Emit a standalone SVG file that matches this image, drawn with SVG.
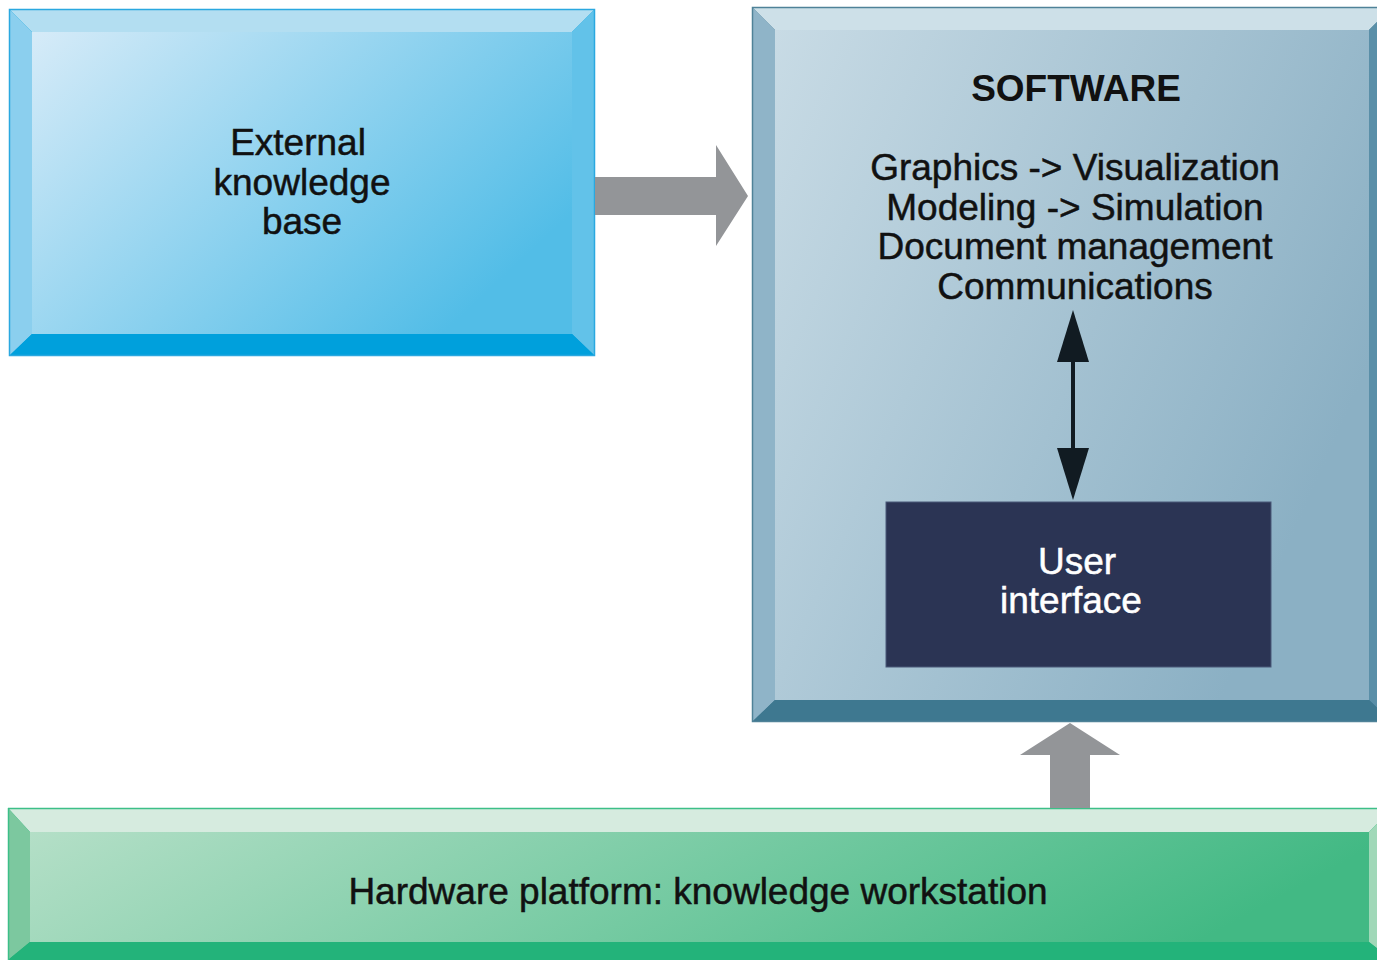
<svg xmlns="http://www.w3.org/2000/svg" width="1377" height="960" viewBox="0 0 1377 960">
<defs>
<linearGradient id="gBlue" x1="0" y1="0" x2="1" y2="0.6">
<stop offset="0" stop-color="#d6ebf8"/>
<stop offset="1" stop-color="#52bde7"/>
</linearGradient>
<linearGradient id="gSoft" x1="0" y1="0" x2="1" y2="0.5">
<stop offset="0" stop-color="#c8dbe5"/>
<stop offset="1" stop-color="#8bb0c4"/>
</linearGradient>
<linearGradient id="gGreen" x1="0" y1="0" x2="1" y2="0.15">
<stop offset="0" stop-color="#b4dfc7"/>
<stop offset="1" stop-color="#42b984"/>
</linearGradient>
</defs>
<style>
.t{font-family:"Liberation Sans",Arial,sans-serif;font-size:37px;fill:#111;stroke:#111;stroke-width:0.5px;text-anchor:middle}
.b{font-weight:bold;stroke-width:0}
.w{fill:#fff;stroke:#fff}
.arrow{fill:#939598}
</style>
<rect width="1377" height="960" fill="#fff"/>

<g id="external">
<rect x="9" y="9" width="586" height="347" fill="#00a0dc"/>
<polygon points="9,9 595,9 572,32 32,32" fill="#b3def1"/>
<polygon points="9,9 32,32 32,334 9,356" fill="#8bcfee"/>
<polygon points="595,9 595,356 572,334 572,32" fill="#62c2e9"/>
<polygon points="9,356 32,334 572,334 595,356" fill="#00a0dc"/>
<rect x="32" y="32" width="540" height="302" fill="url(#gBlue)"/>
<rect x="9.5" y="9.5" width="585" height="346" fill="none" stroke="#2aa8e0" stroke-width="1.5"/>
<text class="t" x="298" y="155">External</text>
<text class="t" x="302" y="195">knowledge</text>
<text class="t" x="302" y="234">base</text>
</g>

<g id="software">
<rect x="752" y="7" width="640" height="715" fill="#3e7890"/>
<polygon points="752,7 1392,7 1369,30 775,30" fill="#cde0e8"/>
<polygon points="752,7 775,30 775,700 752,722" fill="#8fb4c8"/>
<polygon points="1392,7 1392,722 1369,700 1369,30" fill="#5a8fa8"/>
<polygon points="752,722 775,700 1369,700 1392,722" fill="#3e7890"/>
<rect x="775" y="30" width="594" height="670" fill="url(#gSoft)"/>
<rect x="752.5" y="7.5" width="640" height="714" fill="none" stroke="#4f8298" stroke-width="1.5"/>
<text class="t b" x="1076" y="101" font-size="36">SOFTWARE</text>
<text class="t" x="1075" y="180">Graphics -&gt; Visualization</text>
<text class="t" x="1075" y="220">Modeling -&gt; Simulation</text>
<text class="t" x="1075" y="259">Document management</text>
<text class="t" x="1075" y="299">Communications</text>
</g>

<g id="userinterface">
<rect x="886" y="502" width="385" height="165" fill="#2b3454" stroke="#4a5878" stroke-width="1"/>
<text class="t w" x="1077" y="574">User</text>
<text class="t w" x="1071" y="613">interface</text>
</g>

<g id="hardware">
<rect x="8" y="808" width="1384" height="152" fill="#23b37a"/>
<polygon points="8,808 1392,808 1369,832 30,832" fill="#d6ebdf"/>
<polygon points="8,808 30,832 30,942 8,960" fill="#7cc89f"/>
<polygon points="1392,808 1392,960 1369,942 1369,832" fill="#a0d8b8"/>
<polygon points="8,960 30,942 1369,942 1392,960" fill="#23b37a"/>
<rect x="30" y="832" width="1339" height="110" fill="url(#gGreen)"/>
<line x1="8" y1="808.5" x2="1377" y2="808.5" stroke="#3cbf88" stroke-width="1.5"/>
<line x1="8.5" y1="808" x2="8.5" y2="960" stroke="#3cbf88" stroke-width="1.5"/>
<text class="t" x="698" y="904">Hardware platform: knowledge workstation</text>
</g>

<g id="connectors">
<polygon class="arrow" points="595,177 716,177 716,145 748,196 716,246 716,215 595,215"/>
<polygon class="arrow" points="1050,808 1050,755 1020,755 1070,723 1120,755 1090,755 1090,808"/>
<line x1="1073" y1="355" x2="1073" y2="455" stroke="#111b22" stroke-width="4"/>
<path d="M1073 310 L1089 362 L1057 362 Z" fill="#111b22"/>
<path d="M1073 500 L1089 448 L1057 448 Z" fill="#111b22"/>
</g>
</svg>
